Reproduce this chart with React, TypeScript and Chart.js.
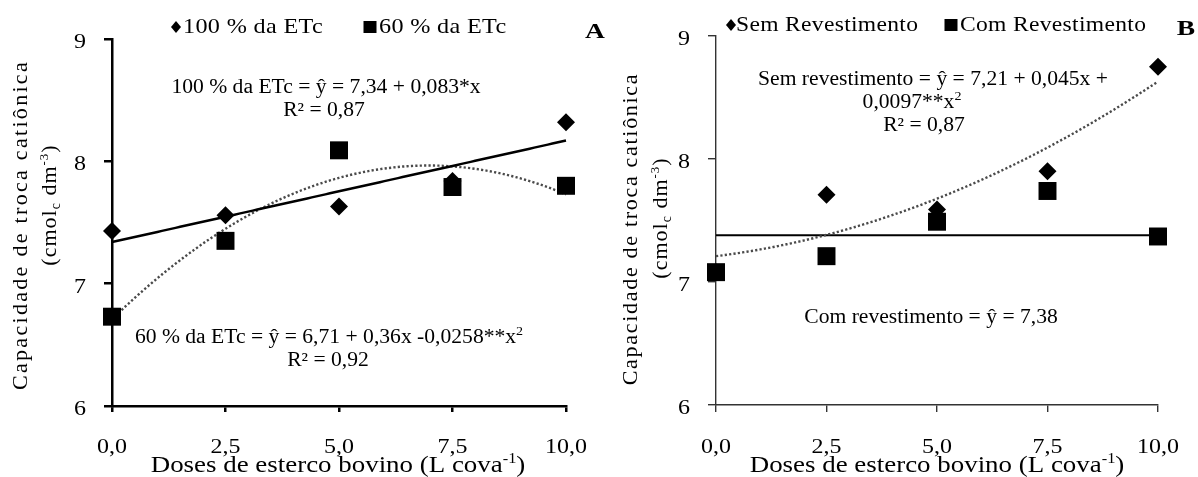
import React, { useEffect, useRef } from 'react';
import { Chart, registerables } from 'chart.js';

Chart.register(...registerables);

// ---------------- data ----------------
const doses = [0, 2.5, 5, 7.5, 10];
const xTickLabels = ['0,0', '2,5', '5,0', '7,5', '10,0'];
const yTickValues = [6, 7, 8, 9];
const yTickLabels = ['6', '7', '8', '9'];

// Panel A
const etc100 = [7.43, 7.56, 7.63, 7.84, 8.32];
const etc60 = [6.73, 7.35, 8.09, 7.79, 7.8];
const coefEtc100 = [7.34, 0.083];
const coefEtc60 = [6.71, 0.36, -0.0258];

// Panel B
const semRev = [7.08, 7.71, 7.59, 7.9, 8.75];
const comRev = [7.08, 7.21, 7.49, 7.74, 7.37];
const coefSem = [7.21, 0.045, 0.0097];
const coefCom = [7.38];

const legendA = ['100 % da ETc', '60 % da ETc'];
const legendB = ['Sem Revestimento', 'Com Revestimento'];

// fitted-curve sample positions along the dose axis (0 .. 10)
const fitX = Array.from({ length: 101 }, (_, i) => i / 10);
const poly = (c: number[], x: number) => c.reduce((s, a, k) => s + a * Math.pow(x, k), 0);

// ---------------- drawing helpers ----------------
const SERIF = '"Liberation Serif", "Times New Roman", Times, serif';
const H = 477;

type Seg = { t: string; size?: number; dy?: number };
type TextOpts = {
  size: number;
  bold?: boolean;
  sx?: number;
  ls?: number;
  align?: 'left' | 'center' | 'right';
  rot?: number;
  color?: string;
};

function drawText(ctx: CanvasRenderingContext2D, segs: Seg[] | string, x: number, y: number, o: TextOpts) {
  const list: Seg[] = typeof segs === 'string' ? [{ t: segs }] : segs;
  ctx.save();
  ctx.translate(x, y);
  if (o.rot) ctx.rotate(o.rot);
  ctx.scale(o.sx ?? 1, 1);
  ctx.fillStyle = o.color ?? '#000';
  ctx.textBaseline = 'alphabetic';
  ctx.textAlign = 'left';
  (ctx as any).letterSpacing = (o.ls ?? 0) + 'px';
  const fontOf = (s: number) => `${o.bold ? 'bold ' : ''}${s}px ${SERIF}`;
  let total = 0;
  const widths = list.map((sg) => {
    ctx.font = fontOf(sg.size ?? o.size);
    const w = ctx.measureText(sg.t).width;
    total += w;
    return w;
  });
  let cx = o.align === 'center' ? -total / 2 : o.align === 'right' ? -total : 0;
  list.forEach((sg, i) => {
    ctx.font = fontOf(sg.size ?? o.size);
    ctx.fillText(sg.t, cx, sg.dy ?? 0);
    cx += widths[i];
  });
  ctx.restore();
}

function drawDiamond(ctx: CanvasRenderingContext2D, x: number, y: number, hw: number, hh: number) {
  ctx.beginPath();
  ctx.moveTo(x - hw, y);
  ctx.lineTo(x, y - hh);
  ctx.lineTo(x + hw, y);
  ctx.lineTo(x, y + hh);
  ctx.closePath();
  ctx.fillStyle = '#000';
  ctx.fill();
}

interface PanelSpec {
  ox: number;
  width: number;
  area: { left: number; right: number; top: number; bottom: number }; // page coordinates
  axisColor: string;
  axisWidth: number;
  tickLenX: number;
  tickLenY: number;
  diamonds: { label: string; values: number[] };
  squares: { label: string; values: number[] };
  fits: { coef: number[]; dotted: boolean; color: string; width: number }[];
  legend: { marker: 'diamond' | 'square'; mx: number; my: number; tx: number; text: string }[];
  legendBaseline: number;
  legendSx: number;
  letter: { t: string; x: number; y: number };
  eqs: { segs: Seg[]; x: number; y: number }[];
  yTitle: { x1: number; y1: number; ls1: number; x2: number; y2: number; ls2: number };
  xTitleX: number;
  yLabelRight: number;
}

const panelA: PanelSpec = {
  ox: 0,
  width: 612,
  area: { left: 112, right: 566, top: 39, bottom: 406 },
  axisColor: '#000',
  axisWidth: 2.5,
  tickLenX: 6,
  tickLenY: 8,
  diamonds: { label: legendA[0], values: etc100 },
  squares: { label: legendA[1], values: etc60 },
  fits: [
    { coef: coefEtc100, dotted: false, color: '#000', width: 2.5 },
    { coef: coefEtc60, dotted: true, color: '#4a4a4a', width: 2.4 },
  ],
  legend: [
    { marker: 'diamond', mx: 176, my: 27, tx: 183, text: legendA[0] },
    { marker: 'square', mx: 370, my: 27, tx: 379, text: legendA[1] },
  ],
  legendBaseline: 33,
  legendSx: 1.1,
  letter: { t: 'A', x: 595, y: 38 },
  eqs: [
    { segs: [{ t: '100 % da ETc = ŷ = 7,34 + 0,083*x' }], x: 326, y: 93 },
    { segs: [{ t: 'R² = 0,87' }], x: 324, y: 116 },
    {
      segs: [{ t: '60 % da ETc = ŷ = 6,71 + 0,36x -0,0258**x' }, { t: '2', size: 13, dy: -8 }],
      x: 329,
      y: 343,
    },
    { segs: [{ t: 'R² = 0,92' }], x: 328, y: 366 },
  ],
  yTitle: { x1: 27, y1: 225, ls1: 2.3, x2: 56, y2: 205, ls2: 1 },
  xTitleX: 338,
  yLabelRight: 86,
};

const panelB: PanelSpec = {
  ox: 612,
  width: 586,
  area: { left: 716, right: 1158, top: 36, bottom: 405 },
  axisColor: '#333',
  axisWidth: 1.4,
  tickLenX: 7,
  tickLenY: 8,
  diamonds: { label: legendB[0], values: semRev },
  squares: { label: legendB[1], values: comRev },
  fits: [
    { coef: coefSem, dotted: true, color: '#4a4a4a', width: 2.4 },
    { coef: coefCom, dotted: false, color: '#000', width: 2 },
  ],
  legend: [
    { marker: 'diamond', mx: 731, my: 25, tx: 736, text: legendB[0] },
    { marker: 'square', mx: 951, my: 25, tx: 960, text: legendB[1] },
  ],
  legendBaseline: 31,
  legendSx: 1.07,
  letter: { t: 'B', x: 1186, y: 35 },
  eqs: [
    { segs: [{ t: 'Sem revestimento = ŷ = 7,21 + 0,045x +' }], x: 933, y: 85 },
    { segs: [{ t: '0,0097**x' }, { t: '2', size: 13, dy: -8 }], x: 912, y: 108 },
    { segs: [{ t: 'R² = 0,87' }], x: 924, y: 131 },
    { segs: [{ t: 'Com revestimento = ŷ = 7,38' }], x: 931, y: 323 },
  ],
  yTitle: { x1: 637, y1: 229, ls1: 1.7, x2: 667, y2: 218, ls2: 1 },
  xTitleX: 937,
  yLabelRight: 690,
};

function makePlugin(spec: PanelSpec) {
  return {
    id: 'panelText' + spec.letter.t,
    afterDraw(chart: any) {
      const ctx: CanvasRenderingContext2D = chart.ctx;
      const ox = spec.ox;
      const xs = chart.scales.x;
      const ys = chart.scales.y;

      // tick labels, placed through the chart scales
      doses.forEach((d, i) =>
        drawText(ctx, xTickLabels[i], xs.getPixelForValue(d), 453, { size: 20, sx: 1.2, align: 'center' })
      );
      yTickValues.forEach((v, i) =>
        drawText(ctx, yTickLabels[i], spec.yLabelRight - ox, ys.getPixelForValue(v) + 9, {
          size: 20,
          sx: 1.2,
          align: 'right',
        })
      );

      // legend
      spec.legend.forEach((it) => {
        if (it.marker === 'diamond') drawDiamond(ctx, it.mx - ox, it.my, 5, 6);
        else {
          ctx.fillStyle = '#000';
          ctx.fillRect(it.mx - ox - 6.5, it.my - 6, 13, 12);
        }
        drawText(ctx, it.text, it.tx - ox, spec.legendBaseline, { size: 22, sx: spec.legendSx, ls: 0.3 });
      });

      // panel letter
      drawText(ctx, spec.letter.t, spec.letter.x - ox, spec.letter.y, {
        size: 22,
        bold: true,
        sx: 1.25,
        align: 'center',
      });

      // equations
      spec.eqs.forEach((e) => drawText(ctx, e.segs, e.x - ox, e.y, { size: 20, sx: 1.08, align: 'center' }));

      // axis titles
      drawText(
        ctx,
        [{ t: 'Doses de esterco bovino (L cova' }, { t: '-1', size: 14, dy: -9 }, { t: ')' }],
        spec.xTitleX - ox,
        472,
        { size: 23, sx: 1.17, align: 'center' }
      );
      const yt = spec.yTitle;
      drawText(ctx, 'Capacidade de troca catiônica', yt.x1 - ox, yt.y1, {
        size: 22,
        ls: yt.ls1,
        align: 'center',
        rot: -Math.PI / 2,
      });
      drawText(
        ctx,
        [
          { t: '(cmol' },
          { t: 'c', size: 14, dy: 4 },
          { t: ' dm' },
          { t: '-3', size: 13, dy: -8 },
          { t: ')' },
        ],
        yt.x2 - ox,
        yt.y2,
        { size: 22, ls: yt.ls2, align: 'center', rot: -Math.PI / 2 }
      );
    },
  };
}

function buildConfig(spec: PanelSpec): any {
  const a = spec.area;
  const pts = (vals: number[]) => doses.map((d, i) => ({ x: d, y: vals[i] }));
  const datasets: any[] = [
    {
      label: spec.squares.label,
      data: pts(spec.squares.values),
      pointStyle: 'rect',
      pointRadius: 12.7,
      pointBorderWidth: 0,
      backgroundColor: '#000',
      borderColor: '#000',
      showLine: false,
      order: 0,
      clip: false,
    },
    {
      label: spec.diamonds.label,
      data: pts(spec.diamonds.values),
      pointStyle: 'rectRot',
      pointRadius: 9,
      pointBorderWidth: 0,
      backgroundColor: '#000',
      borderColor: '#000',
      showLine: false,
      order: 1,
      clip: false,
    },
    ...spec.fits.map((f) => ({
      label: 'fit',
      data: fitX.map((x) => ({ x, y: poly(f.coef, x) })),
      showLine: true,
      pointRadius: 0,
      borderColor: f.color,
      borderWidth: f.width,
      borderDash: f.dotted ? [2.2, 2.2] : [],
      borderCapStyle: 'butt',
      fill: false,
      tension: 0,
      order: 2,
      clip: false,
    })),
  ];
  const axisCommon = (tl: number) => ({
    type: 'linear',
    ticks: { display: false },
    grid: {
      display: true,
      drawOnChartArea: false,
      drawTicks: true,
      tickLength: tl,
      color: spec.axisColor,
      lineWidth: spec.axisWidth,
    },
    border: { display: true, color: spec.axisColor, width: spec.axisWidth },
  });
  return {
    type: 'scatter',
    data: { datasets },
    plugins: [makePlugin(spec)],
    options: {
      responsive: false,
      maintainAspectRatio: false,
      animation: false,
      devicePixelRatio: 1,
      events: [],
      layout: {
        padding: { left: 0, top: a.top, right: spec.ox + spec.width - a.right, bottom: 0 },
      },
      plugins: { legend: { display: false }, tooltip: { enabled: false }, title: { display: false } },
      scales: {
        x: {
          ...axisCommon(spec.tickLenX),
          position: 'bottom',
          min: 0,
          max: 10,
          afterBuildTicks: (s: any) => {
            s.ticks = doses.map((v) => ({ value: v }));
          },
          afterFit: (s: any) => {
            s.height = H - a.bottom;
          },
        },
        y: {
          ...axisCommon(spec.tickLenY),
          position: 'left',
          min: 6,
          max: 9,
          afterBuildTicks: (s: any) => {
            s.ticks = yTickValues.map((v) => ({ value: v }));
          },
          afterFit: (s: any) => {
            s.width = a.left - spec.ox;
          },
        },
      },
    },
  };
}

function Panel({ spec }: { spec: PanelSpec }) {
  const ref = useRef<HTMLCanvasElement | null>(null);
  useEffect(() => {
    if (!ref.current) return;
    const chart = new Chart(ref.current, buildConfig(spec));
    let alive = true;
    const fonts: any = (document as any).fonts;
    if (fonts && fonts.load) {
      Promise.all([
        fonts.load(`20px ${SERIF}`),
        fonts.load(`bold 22px ${SERIF}`),
      ])
        .then(() => {
          if (alive) chart.draw();
        })
        .catch(() => {});
    }
    return () => {
      alive = false;
      chart.destroy();
    };
  }, [spec]);
  return (
    <canvas
      ref={ref}
      width={spec.width}
      height={H}
      style={{ position: 'absolute', left: spec.ox, top: 0, width: spec.width, height: H }}
    />
  );
}

export default function App() {
  return (
    <div style={{ position: 'absolute', left: 0, top: 0, width: 1198, height: H, background: '#fff' }}>
      <Panel spec={panelA} />
      <Panel spec={panelB} />
    </div>
  );
}
